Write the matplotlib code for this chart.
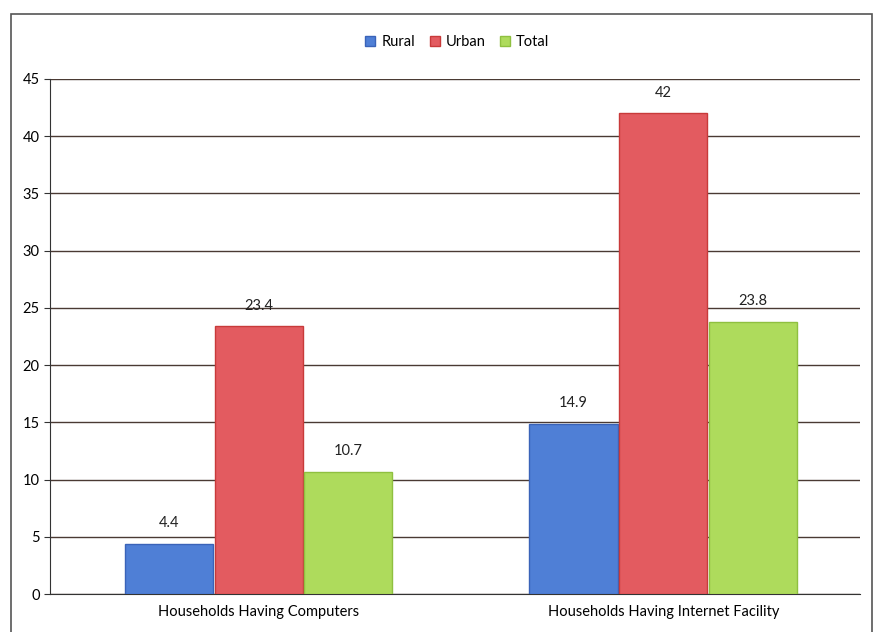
import matplotlib.pyplot as plt
import numpy as np

plt.rcParams['font.family'] = ['Lato', 'DejaVu Sans']

# === DATA ===
categories = ['Households Having Computers', 'Households Having Internet Facility']
rural = [4.4, 14.9]
urban = [23.4, 42]
total = [10.7, 23.8]
series_names = ['Rural', 'Urban', 'Total']

# === STYLE ===
colors = ['#4f7fd6', '#e35b60', '#aedb5c']
edges = ['#3a63b8', '#c83a3a', '#8fc040']

fig = plt.figure(figsize=(8.79, 6.32), dpi=100)
ax = fig.add_axes([0.057, 0.060, 0.921, 0.815])

x = np.arange(len(categories))
width = 0.222
for i, (vals, name) in enumerate(zip([rural, urban, total], series_names)):
    pos = x + (i - 1) * width
    bars = ax.bar(pos, vals, width * 0.98, color=colors[i], edgecolor=edges[i],
                  linewidth=1, label=name, zorder=3)
    for b, v in zip(bars, vals):
        ax.text(b.get_x() + b.get_width() / 2, v + 1.2, f'{v:g}',
                ha='center', va='bottom', fontsize=10.5, color='#222222', zorder=4)

ax.set_xlim(-0.515, 1.485)
ax.set_ylim(0, 45)
ax.set_yticks(range(0, 46, 5))
ax.set_xticks(x)
ax.set_xticklabels(categories, fontsize=10.5)
ax.tick_params(axis='y', labelsize=10.5, length=4, color='#333333')
ax.tick_params(axis='x', length=0, pad=8)
ax.grid(axis='y', color='#4a3a33', linewidth=1.0, zorder=0)
for side in ['top', 'right']:
    ax.spines[side].set_visible(False)
ax.spines['left'].set_color('#333333')
ax.spines['bottom'].set_color('#333333')

ax.legend(loc='center', bbox_to_anchor=(0.503, 1.072), ncol=3, frameon=False,
          fontsize=10.5, handlelength=0.7, handleheight=0.7, handletextpad=0.4,
          columnspacing=1.0)

# outer chart frame
frame = plt.Rectangle((0.012, -0.01), 0.98, 0.988, transform=fig.transFigure,
                      fill=False, edgecolor='#555555', linewidth=1.2)
fig.patches.append(frame)

fig.savefig('out.png', dpi=100)
